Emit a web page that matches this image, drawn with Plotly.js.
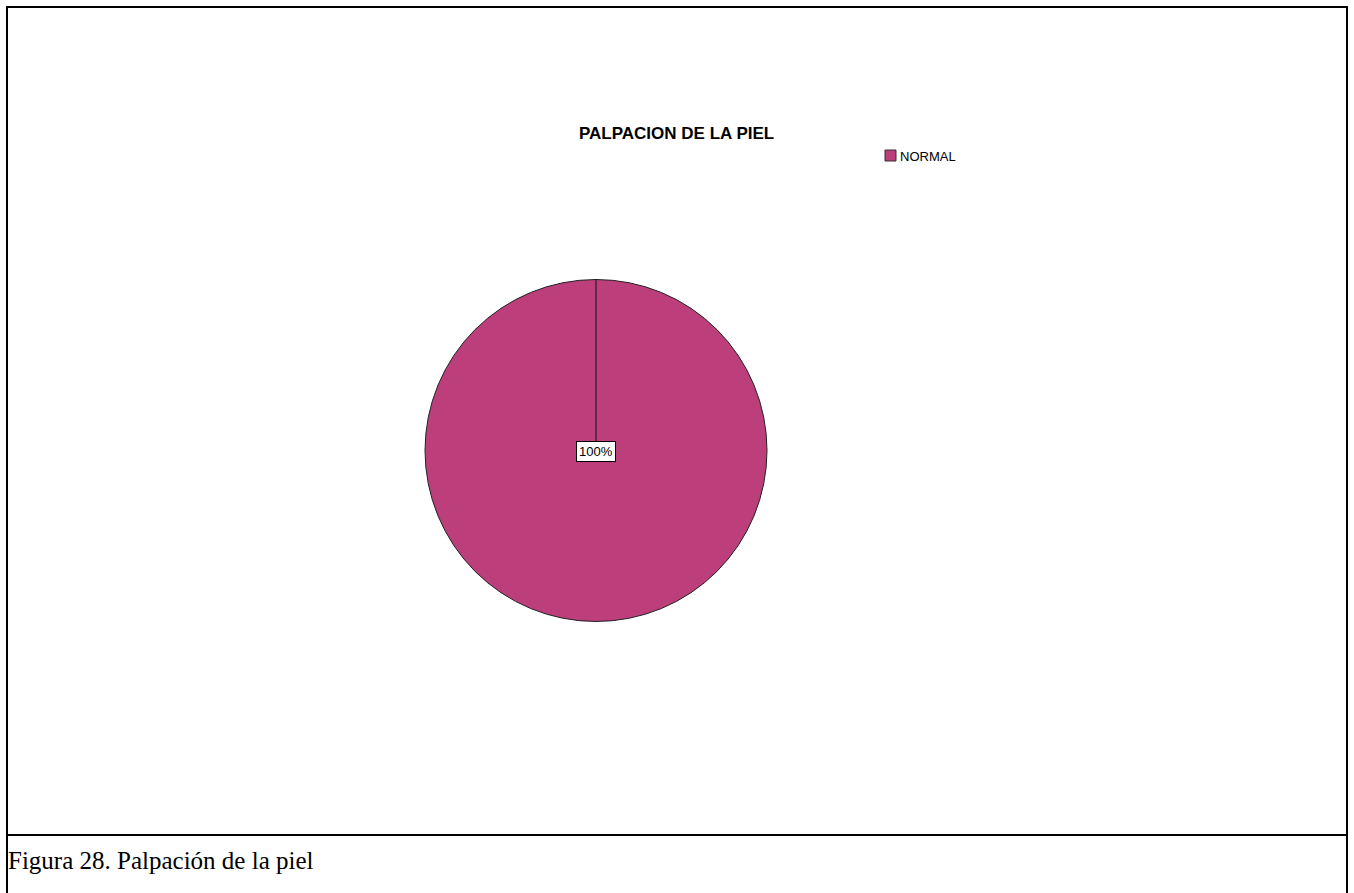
<!DOCTYPE html>
<html>
<head>
<meta charset="utf-8">
<script src="https://cdn.plot.ly/plotly-3.0.1.min.js"></script>
<style>html,body{margin:0;padding:0;background:#fff;}#chart{width:1354px;height:893px;}</style>
</head>
<body>
<div id="chart"></div>
<script>
const categories = ['NORMAL'];
const values = [100];
const sliceColors = ['#BC3F7C'];
const chartTitle = 'PALPACION DE LA PIEL';
const caption = 'Figura 28. Palpación de la piel';

const W = 1354, H = 893;
const px = x => x / W;
const py = y => 1 - y / H;

// pie placement (pixels)
const cx = 596, cy = 450.5, r = 171;
const total = values.reduce((a, b) => a + b, 0);
const pctText = values.map(v => Math.round(v / total * 100) + '%');

const data = [{
  type: 'pie',
  labels: categories,
  values: values,
  marker: {colors: sliceColors, line: {color: '#222', width: 1}},
  textinfo: 'none',
  hoverinfo: 'label+percent',
  sort: false,
  direction: 'clockwise',
  rotation: 0,
  showlegend: false,
  domain: {x: [px(cx - r), px(cx + r)], y: [py(cy + r), py(cy - r)]}
}];

const shapes = [
  {type: 'rect', xref: 'paper', yref: 'paper', x0: px(7), x1: px(1347), y0: py(900), y1: py(7), line: {color: '#000', width: 2}, fillcolor: 'rgba(0,0,0,0)'},
  {type: 'line', xref: 'paper', yref: 'paper', x0: px(7), x1: px(1347), y0: py(835), y1: py(835), line: {color: '#000', width: 2}},
  {type: 'line', xref: 'paper', yref: 'paper', x0: px(cx), x1: px(cx), y0: py(cy), y1: py(cy - r), line: {color: '#111', width: 1}},
  {type: 'rect', xref: 'paper', yref: 'paper', x0: px(885), x1: px(896), y0: py(161), y1: py(150), line: {color: '#333', width: 1}, fillcolor: sliceColors[0]}
];

const annotations = [
  {xref: 'paper', yref: 'paper', x: px(cx), y: py(cy + 1), text: pctText[0], showarrow: false,
   font: {family: 'Liberation Sans, Arial, sans-serif', size: 13, color: '#000'},
   bgcolor: '#fff', bordercolor: '#000', borderwidth: 1, borderpad: 2, xanchor: 'center', yanchor: 'middle'},
  {xref: 'paper', yref: 'paper', x: px(898), y: py(156), text: categories[0], showarrow: false,
   font: {family: 'Liberation Sans, Arial, sans-serif', size: 13, color: '#000'}, xanchor: 'left', yanchor: 'middle'},
  {xref: 'paper', yref: 'paper', x: px(676), y: py(133), text: '<b>' + chartTitle + '</b>', showarrow: false,
   font: {family: 'Liberation Sans, Arial, sans-serif', size: 17, color: '#000'}, xanchor: 'center', yanchor: 'middle'},
  {xref: 'paper', yref: 'paper', x: px(6), y: py(860), text: caption, showarrow: false,
   font: {family: 'Liberation Serif, Times New Roman, serif', size: 25, color: '#000'}, xanchor: 'left', yanchor: 'middle'}
];

const layout = {
  width: W, height: H,
  margin: {l: 0, r: 0, t: 0, b: 0, pad: 0},
  paper_bgcolor: '#fff',
  showlegend: false,
  shapes: shapes,
  annotations: annotations
};

Plotly.newPlot('chart', data, layout, {displayModeBar: false, staticPlot: true});
</script>
</body>
</html>
